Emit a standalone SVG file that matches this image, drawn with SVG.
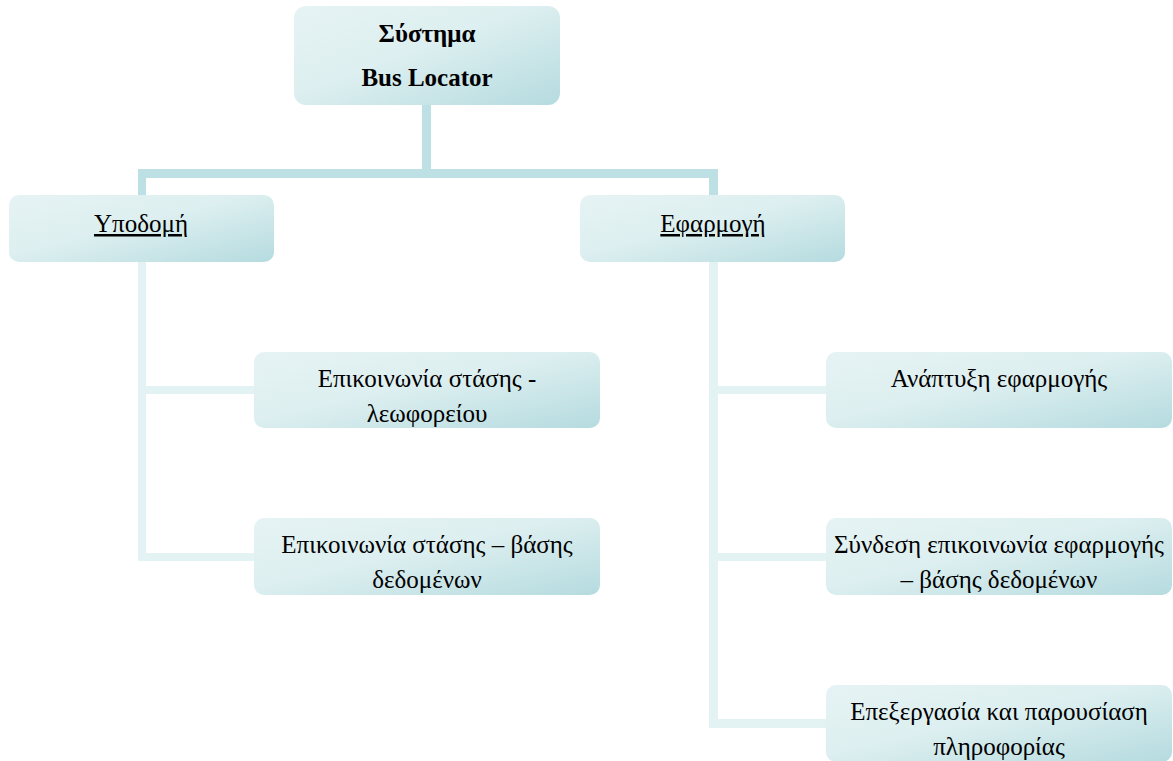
<svg xmlns="http://www.w3.org/2000/svg" width="1173" height="761" viewBox="0 0 1173 761">
<defs>
<linearGradient id="g" x1="0" y1="0" x2="1" y2="1">
<stop offset="0" stop-color="#e6f3f4"/>
<stop offset="0.45" stop-color="#ddeff0"/>
<stop offset="1" stop-color="#b5dbdf"/>
</linearGradient>
<style>
.box{fill:url(#g);}
.t{font-family:"Liberation Serif","DejaVu Serif",serif;font-size:25px;fill:#000;text-anchor:middle;}
.b{font-weight:bold;}
.u{text-decoration:underline;}
.c1{fill:#bce0e3;}
.c2{fill:#e3f2f3;}
</style>
</defs>
<rect width="1173" height="761" fill="#ffffff"/>
<g id="connectors">
<rect class="c1" x="422" y="100" width="9" height="78"/>
<rect class="c1" x="138" y="169" width="580" height="9"/>
<rect class="c1" x="138" y="169" width="8" height="30"/>
<rect class="c1" x="709" y="169" width="9" height="30"/>
<rect class="c2" x="138" y="255" width="8" height="306"/>
<rect class="c2" x="138" y="386" width="120" height="8"/>
<rect class="c2" x="138" y="553" width="120" height="8"/>
<rect class="c2" x="709" y="255" width="9" height="473"/>
<rect class="c2" x="709" y="386" width="120" height="8"/>
<rect class="c2" x="709" y="553" width="120" height="8"/>
<rect class="c2" x="709" y="719" width="120" height="9"/>
</g>
<g id="root">
<rect class="box" x="294" y="6" width="266" height="99" rx="12"/>
<text class="t b" x="427" y="42">Σύστημα</text>
<text class="t b" x="427" y="86">Bus Locator</text>
</g>
<g id="infra">
<rect class="box" x="9" y="195" width="265" height="67" rx="10"/>
<text class="t u" x="141" y="232">Υποδομή</text>
</g>
<g id="app">
<rect class="box" x="580" y="195" width="265" height="67" rx="10"/>
<text class="t u" x="713" y="232">Εφαρμογή</text>
</g>
<g id="infra1">
<rect class="box" x="254" y="352" width="346" height="76" rx="10"/>
<text class="t" x="427" y="387">Επικοινωνία στάσης -</text>
<text class="t" x="427" y="422">λεωφορείου</text>
</g>
<g id="infra2">
<rect class="box" x="254" y="518" width="346" height="77" rx="10"/>
<text class="t" x="427" y="553">Επικοινωνία στάσης – βάσης</text>
<text class="t" x="427" y="588">δεδομένων</text>
</g>
<g id="app1">
<rect class="box" x="826" y="352" width="346" height="76" rx="10"/>
<text class="t" x="999" y="387">Ανάπτυξη εφαρμογής</text>
</g>
<g id="app2">
<rect class="box" x="826" y="518" width="346" height="77" rx="10"/>
<text class="t" x="999" y="553">Σύνδεση επικοινωνία εφαρμογής</text>
<text class="t" x="999" y="588">– βάσης δεδομένων</text>
</g>
<g id="app3">
<rect class="box" x="826" y="685" width="346" height="77" rx="10"/>
<text class="t" x="999" y="720">Επεξεργασία και παρουσίαση</text>
<text class="t" x="999" y="755">πληροφορίας</text>
</g>
</svg>
